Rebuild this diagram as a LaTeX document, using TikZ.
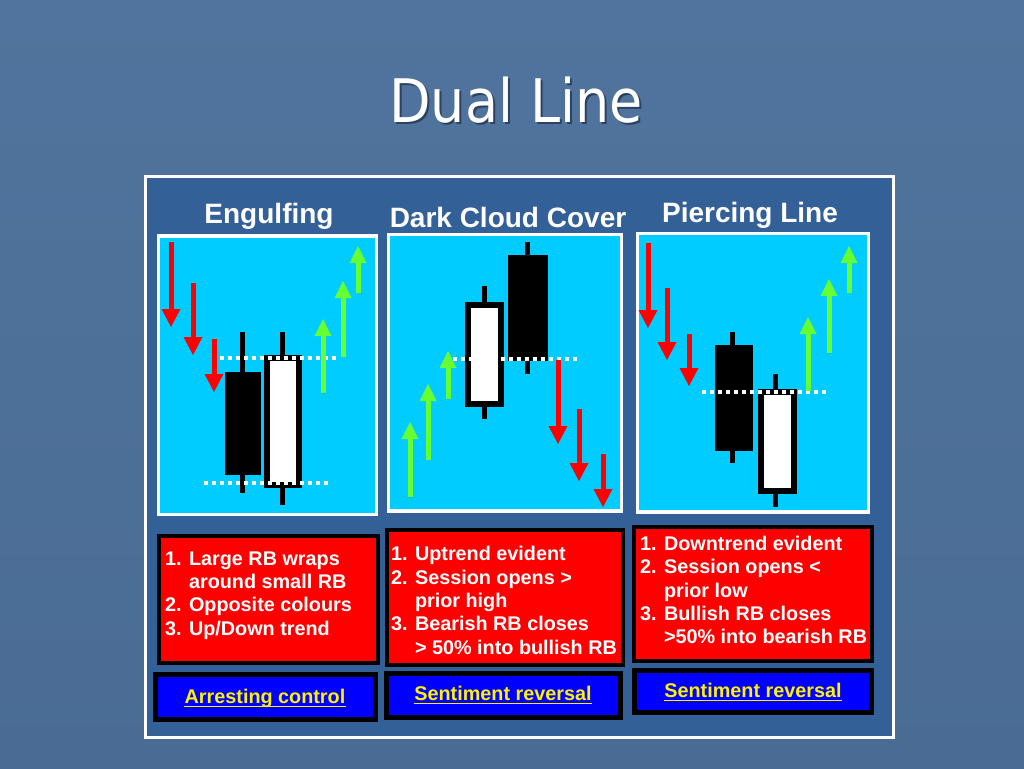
\documentclass[tikz,border=0pt]{standalone}
\usepackage{fontspec}
\setmainfont{Liberation Sans}
\newfontfamily\titlefont{DejaVu Sans}
\definecolor{slidetop}{RGB}{80,116,157}
\definecolor{slidebot}{RGB}{74,108,148}
\definecolor{panelblue}{RGB}{52,96,152}
\definecolor{chartcyan}{RGB}{0,204,255}
\definecolor{upgreen}{RGB}{102,255,51}
\definecolor{titleshade}{RGB}{20,35,60}

% trend arrows: x, start, tip
\newcommand{\trenddown}[3]{%
  \fill[red] (#1-2.5,#2) rectangle (#1+2.5,#3-18);
  \fill[red] (#1-9.5,#3-18) -- (#1+9.5,#3-18) -- (#1,#3) -- cycle;}
\newcommand{\trendup}[3]{%
  \fill[upgreen] (#1-2.5,#2) rectangle (#1+2.5,#3+17);
  \fill[upgreen] (#1-8.5,#3+17) -- (#1+8.5,#3+17) -- (#1,#3) -- cycle;}

\begin{document}
\begin{tikzpicture}[x=1pt,y=-1pt,
    wick/.style={line width=5pt},
    bearbody/.style={fill=black},
    bullbody/.style={fill=white, draw=black, line width=6pt},
    levelline/.style={white, line width=4pt, dash pattern=on 4pt off 4pt},
    heading/.style={white, font=\bfseries\fontsize{28}{32}\selectfont, anchor=base, inner sep=0pt},
    notes/.style={white, font=\bfseries\fontsize{19.8}{23.3}\selectfont, align=left, anchor=north west, inner sep=0pt},
    verdict/.style={yellow, font=\bfseries\fontsize{19.8}{24}\selectfont, anchor=base, inner sep=0pt}]
    \useasboundingbox (0,0) rectangle (1024,768);

    % Slide background
    \shade[top color=slidetop, bottom color=slidebot] (0,0) rectangle (1024,768);

    % Title
    \node[titleshade, opacity=0.6, font=\titlefont\fontsize{60}{70}\selectfont, anchor=base] (titleshadow) at (518,124) {\scalebox{0.9}[1]{Dual Line}};
    \node[white, font=\titlefont\fontsize{60}{70}\selectfont, anchor=base] (title) at (516,122) {\scalebox{0.9}[1]{Dual Line}};

    % Main panel
    \draw[white, line width=3pt, fill=panelblue] (145,176) rectangle (893,737);

    % Headings
    \node[heading] (engulf) at (269,223) {Engulfing};
    \node[heading] (darkcloud) at (508,227) {Dark Cloud Cover};
    \node[heading] (piercing) at (750,222) {Piercing Line};

    % Chart boxes
    \draw[white, line width=3.5pt, fill=chartcyan] (158.5,236) rectangle (376.5,514.5);
    \draw[white, line width=3.5pt, fill=chartcyan] (388.5,234.5) rectangle (621.5,511);
    \draw[white, line width=3.5pt, fill=chartcyan] (637.5,233.5) rectangle (868.5,512);

    % Engulfing candles
    \draw[wick] (242,332) -- (242,493);
    \fill[bearbody] (225,372) rectangle (261,475);
    \draw[wick] (282,332) -- (282,505);
    \draw[bullbody] (267.3,358) rectangle (299.3,485.3);
    \draw[levelline] (212,358) -- (337,358);
    \draw[levelline] (204,483) -- (328,483);

    % Engulfing trend arrows
    \trenddown{171}{242}{327}
    \trenddown{193}{283}{355}
    \trenddown{214}{339}{392}
    \trendup{323}{393}{319}
    \trendup{343}{357}{281}
    \trendup{358}{293}{246}

    % Dark cloud cover candles
    \draw[wick] (484,286) -- (484,419);
    \draw[bullbody] (468,304.7) rectangle (501.3,404.3);
    \draw[wick] (527,242) -- (527,374);
    \fill[bearbody] (508,255) rectangle (548,361);
    \draw[levelline] (453,359) -- (579,359);

    % Dark cloud cover trend arrows
    \trendup{410}{497}{422}
    \trendup{428}{460}{384}
    \trendup{448}{399}{351}
    \trenddown{558}{360}{444}
    \trenddown{579}{409}{481}
    \trenddown{603}{454}{507}

    % Piercing line candles
    \draw[wick] (732,332) -- (732,463);
    \fill[bearbody] (715,345) rectangle (753,451);
    \draw[wick] (775,374) -- (775,507);
    \draw[bullbody] (760.7,392) rectangle (794.3,491.3);
    \draw[levelline] (702,392) -- (827,392);

    % Piercing line trend arrows
    \trenddown{648}{243}{328}
    \trenddown{667}{288}{360}
    \trenddown{689}{334}{386}
    \trendup{808}{391}{317}
    \trendup{829}{353}{279}
    \trendup{849}{293}{246}

    % Rule boxes
    \draw[black, line width=4pt, fill=red] (158.5,536) rectangle (378,662.5);
    \draw[black, line width=4pt, fill=red] (387,530.3) rectangle (623,664.7);
    \draw[black, line width=4pt, fill=red] (634.3,527.3) rectangle (872.3,661);
    \node[notes] (rules1) at (165,551.4) {1. Large RB wraps\\\phantom{1. }around small RB\\2. Opposite colours\\3. Up/Down trend};
    \node[notes] (rules2) at (391,546.4) {1. Uptrend evident\\2. Session opens >\\\phantom{2. }prior high\\3. Bearish RB closes\\\phantom{3. }> 50\% into bullish RB};
    \node[notes] (rules3) at (640,536) {1. Downtrend evident\\2. Session opens <\\\phantom{2. }prior low\\3. Bullish RB closes\\\phantom{3. }>50\% into bearish RB};

    % Verdict boxes
    \draw[black, line width=5pt, fill=blue] (155.8,674.2) rectangle (375.8,719.2);
    \draw[black, line width=5pt, fill=blue] (386.5,673.2) rectangle (620.2,717.5);
    \draw[black, line width=5pt, fill=blue] (634.5,670.5) rectangle (871.5,712.2);
    \node[verdict] (verdict1) at (265,703) {Arresting control};
    \node[verdict] (verdict2) at (503,700) {Sentiment reversal};
    \node[verdict] (verdict3) at (753,697) {Sentiment reversal};
    \draw[yellow, line width=1.6pt] ([yshift=-3.5pt]verdict1.base west) -- ([yshift=-3.5pt]verdict1.base east);
    \draw[yellow, line width=1.6pt] ([yshift=-3.5pt]verdict2.base west) -- ([yshift=-3.5pt]verdict2.base east);
    \draw[yellow, line width=1.6pt] ([yshift=-3.5pt]verdict3.base west) -- ([yshift=-3.5pt]verdict3.base east);
\end{tikzpicture}
\end{document}
